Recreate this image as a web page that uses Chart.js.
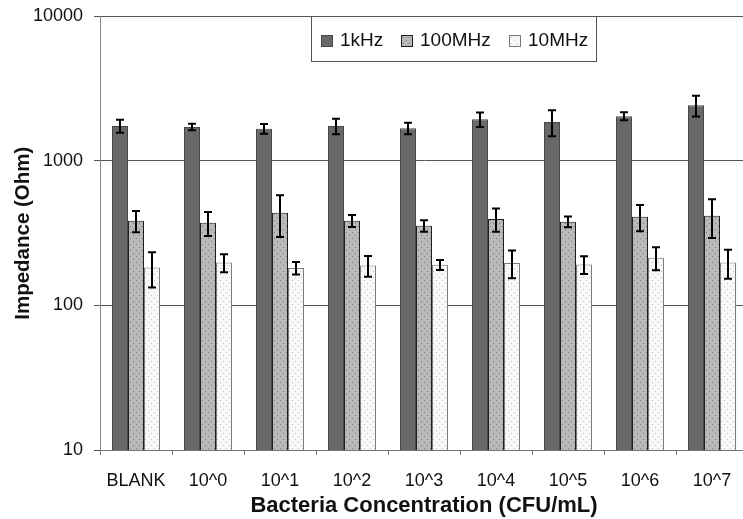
<!DOCTYPE html>
<html>
<head>
<meta charset="utf-8">
<script src="https://cdn.jsdelivr.net/npm/chart.js@4/dist/chart.umd.min.js"></script>
<style>
html,body{margin:0;padding:0;background:#fff;overflow:hidden}
#wrap{width:750px;height:519px}
</style>
</head>
<body>
<div id="wrap"><canvas id="c"></canvas></div>
<script>
const categories=['BLANK','10^0','10^1','10^2','10^3','10^4','10^5','10^6','10^7'];
const seriesNames=['1kHz','100MHz','10MHz'];
const kHz1=[1745,1720,1670,1745,1685,1940,1860,2040,2430];
const kHz1Err=[180,90,130,215,155,220,380,130,400];
const MHz100=[386,373,438,386,356,396,380,411,418];
const MHz100Err=[65,70,140,37,32,72,33,85,125];
const MHz10=[183,198,182,189,191,197,192,214,198];
const MHz10Err=[50,28,18,31,15,43,27,39,45];
const yTicks=[10,100,1000,10000];

const FONT='"Liberation Sans", Arial, sans-serif';

function dots(bg,dot){
  const p=document.createElement('canvas');
  p.width=6;p.height=6;
  const g=p.getContext('2d');
  g.fillStyle=bg;g.fillRect(0,0,6,6);
  g.fillStyle=dot;
  g.fillRect(1,1,1,1);g.fillRect(4,4,1,1);
  return g.createPattern(p,'repeat');
}
const ctx=document.getElementById('c').getContext('2d');
const fills=['#686868',dots('#b9b9b9','#7d7d7d'),dots('#f8f8f8','#c4c4c4')];
const borders=['#474747','#1e1e1e','#7a7a7a'];
const errs=[kHz1Err,MHz100Err,MHz10Err];

const errorBars={
  id:'errorBars',
  afterDatasetsDraw(chart){
    const c=chart.ctx,y=chart.scales.y;
    c.save();
    c.strokeStyle='#000';c.lineWidth=2;
    chart.data.datasets.forEach((ds,i)=>{
      chart.getDatasetMeta(i).data.forEach((bar,j)=>{
        const v=ds.data[j],e=errs[i][j];
        const t=y.getPixelForValue(v+e),b=y.getPixelForValue(v-e),x=bar.x;
        c.beginPath();
        c.moveTo(x,t);c.lineTo(x,b);
        c.moveTo(x-4,t);c.lineTo(x+4,t);
        c.moveTo(x-4,b);c.lineTo(x+4,b);
        c.stroke();
      });
    });
    c.restore();
  }
};

// legend sits in a white box inside the plot, top edge on the top grid line
const boxLegend={
  id:'boxLegend',
  afterDraw(chart){
    const c=chart.ctx,top=Math.round(chart.chartArea.top);
    c.save();
    c.fillStyle='#fff';c.fillRect(311,top,285,45);
    c.strokeStyle='#555';c.lineWidth=1;c.strokeRect(311.5,top+0.5,285,45);
    const sx=[321,401,509];
    c.font='19px '+FONT;
    c.textBaseline='middle';
    seriesNames.forEach((n,i)=>{
      c.fillStyle=fills[i];c.fillRect(sx[i],top+19,12,12);
      c.strokeStyle=borders[i];c.strokeRect(sx[i]+0.5,top+19.5,11,11);
      c.fillStyle='#111';c.fillText(n,sx[i]+19,top+25);
    });
    c.restore();
  }
};

new Chart(ctx,{
  type:'bar',
  data:{
    labels:categories,
    datasets:[kHz1,MHz100,MHz10].map((d,i)=>({
      label:seriesNames[i],
      data:d,
      backgroundColor:fills[i],
      borderColor:borders[i],
      borderWidth:1,
      categoryPercentage:0.667,
      barPercentage:1.0
    }))
  },
  options:{
    responsive:true,
    maintainAspectRatio:false,
    animation:false,
    devicePixelRatio:1,
    layout:{padding:{top:8,right:2,left:0,bottom:0}},
    plugins:{legend:{display:false},tooltip:{enabled:false}},
    scales:{
      x:{
        grid:{display:true,drawOnChartArea:false,offset:true,color:'#777',tickLength:5},
        border:{color:'#777'},
        ticks:{color:'#111',font:{size:18,family:FONT},padding:15,maxRotation:0,autoSkip:false},
        title:{display:true,text:'Bacteria Concentration (CFU/mL)',color:'#111',
          font:{size:22,weight:'bold',family:FONT},padding:{top:0,bottom:0}},
        afterFit(s){s.height=69;}
      },
      y:{
        type:'logarithmic',
        min:10,max:10000,
        afterBuildTicks(s){s.ticks=yTicks.map(v=>({value:v}));},
        grid:{color:'#555',tickLength:6},
        border:{color:'#888'},
        ticks:{color:'#111',font:{size:18,family:FONT,lineHeight:0.6},padding:11,
          callback:v=>String(v)},
        title:{display:true,text:'Impedance (Ohm)',color:'#111',
          font:{size:20.5,weight:'bold',family:FONT},padding:{top:11,bottom:0}},
        afterFit(s){s.width=100;}
      }
    }
  },
  plugins:[errorBars,boxLegend]
});
</script>
</body>
</html>
